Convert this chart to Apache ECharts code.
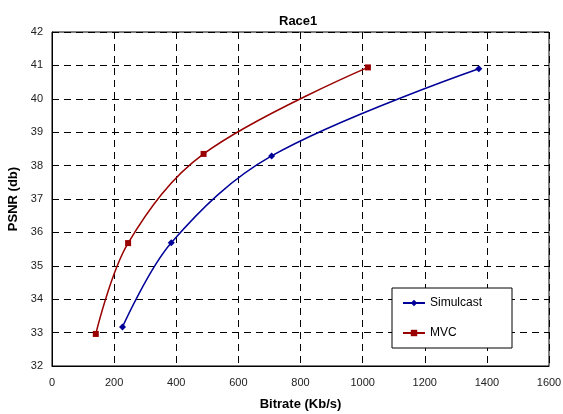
<!DOCTYPE html>
<html>
<head>
<meta charset="utf-8">
<script src="https://cdn.jsdelivr.net/npm/echarts@6/dist/echarts.min.js"></script>
<style>
  html, body { margin: 0; padding: 0; background: #fff; }
  #chart { width: 563px; height: 414px; }
</style>
</head>
<body>
<div id="chart"></div>
<script>
// Bitrate (Kb/s) vs PSNR (db) per codec
var simulcastRate = [227, 384, 707, 1374];
var simulcastPsnr = [33.17, 35.69, 38.29, 40.9];
var mvcRate = [141, 245, 488, 1017];
var mvcPsnr = [32.96, 35.68, 38.35, 40.94];

function pairs(xs, ys) {
    return xs.map(function (x, i) { return [x, ys[i]]; });
}

var font = "Liberation Sans, Arial, sans-serif";
var gridDash = { color: "#000", width: 1, type: [7, 5] };

var chart = echarts.init(document.getElementById("chart"));
chart.setOption({
    animation: false,
    backgroundColor: "#fff",
    title: {
        text: "Race1",
        left: 274,
        top: 10,
        textStyle: { fontFamily: font, fontSize: 13, fontWeight: "bold", color: "#000" }
    },
    grid: {
        left: 52, top: 32, right: 14, bottom: 48,
        containLabel: false,
        outerBoundsMode: "none",
        show: true, borderColor: "#000", borderWidth: 1
    },
    legend: {
        orient: "vertical",
        left: 392,
        top: 288,
        width: 112,
        padding: [9, 30, 9, 10],
        itemGap: 18,
        itemWidth: 22,
        itemHeight: 8,
        backgroundColor: "#fff",
        borderColor: "#000",
        borderWidth: 1,
        textStyle: { fontFamily: font, fontSize: 12, color: "#000" },
        data: ["Simulcast", "MVC"]
    },
    xAxis: {
        type: "value",
        min: 0,
        max: 1600,
        interval: 200,
        name: "Bitrate (Kb/s)",
        nameLocation: "middle",
        nameGap: 32,
        nameTextStyle: { fontFamily: font, fontSize: 13, fontWeight: "bold", color: "#000" },
        axisLine: { lineStyle: { color: "#000" } },
        axisTick: { show: false },
        axisLabel: { fontFamily: font, fontSize: 11, color: "#222", margin: 11, formatter: function (v) { return String(v); } },
        splitLine: { show: true, lineStyle: gridDash }
    },
    yAxis: {
        type: "value",
        min: 32,
        max: 42,
        interval: 1,
        name: "PSNR (db)",
        nameLocation: "middle",
        nameGap: 24,
        nameTextStyle: { fontFamily: font, fontSize: 13, fontWeight: "bold", color: "#000" },
        axisLine: { show: true, lineStyle: { color: "#000" } },
        axisTick: { show: false },
        axisLabel: { fontFamily: font, fontSize: 11, color: "#222", margin: 9 },
        splitLine: { show: true, lineStyle: gridDash }
    },
    series: [
        {
            name: "Simulcast",
            type: "line",
            smooth: 0.35,
            data: pairs(simulcastRate, simulcastPsnr),
            symbol: "diamond",
            symbolSize: 7,
            color: "#000099",
            lineStyle: { width: 1.5, color: "#000099" },
            itemStyle: { color: "#000099" }
        },
        {
            name: "MVC",
            type: "line",
            smooth: 0.35,
            data: pairs(mvcRate, mvcPsnr),
            symbol: "rect",
            symbolSize: 6,
            color: "#990000",
            lineStyle: { width: 1.5, color: "#990000" },
            itemStyle: { color: "#990000" }
        }
    ]
});
</script>
</body>
</html>
